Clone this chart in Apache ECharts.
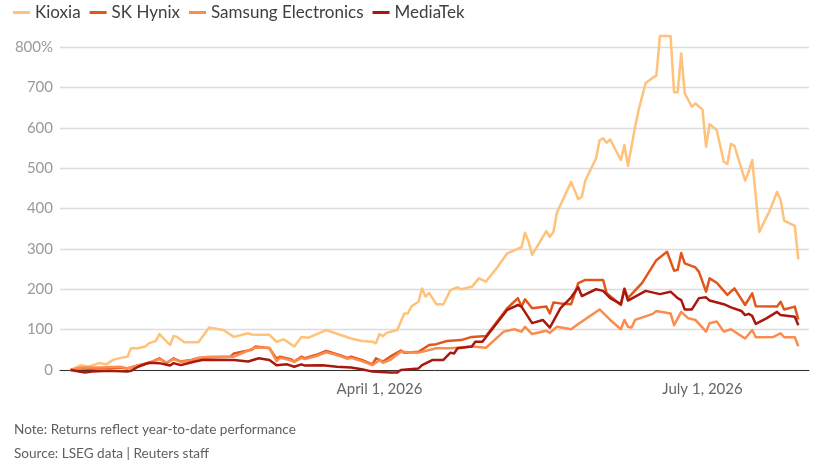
<!DOCTYPE html>
<html>
<head>
<meta charset="utf-8">
<script src="https://cdn.jsdelivr.net/npm/echarts@6/dist/echarts.min.js"></script>
<style>
  html, body { margin: 0; padding: 0; background: #fff; }
  #chart { width: 822px; height: 462px; }
</style>
</head>
<body>
<div id="chart"></div>
<script>
// ---- data (year-to-date returns, %) ----
const seriesNames = ['Kioxia', 'SK Hynix', 'Samsung Electronics', 'MediaTek'];

const kioxiaDates = ['01-04','01-07','01-09','01-12','01-14','01-16','01-18','01-20','01-21','01-23','01-25','01-26','01-28','01-29','02-01','02-02','02-03','02-05','02-09','02-12','02-14','02-16','02-19','02-23','02-24','02-26','03-01','03-03','03-05','03-08','03-10','03-12','03-16','03-17','03-19','03-24','03-27','03-30','03-31','04-01','04-02','04-03','04-06','04-08','04-09','04-10','04-12','04-13','04-14','04-15','04-17','04-19','04-21','04-23','04-24','04-27','04-29','05-01','05-04','05-07','05-11','05-12','05-13','05-14','05-18','05-19','05-20','05-21','05-25','05-27','05-28','05-29','06-01','06-02','06-03','06-04','06-05','06-08','06-09','06-10','06-12','06-13','06-15','06-17','06-18','06-19','06-22','06-23','06-24','06-25','06-26','06-28','06-29','07-01','07-02','07-03','07-05','07-07','07-08','07-09','07-10','07-13','07-14','07-15','07-17','07-20','07-22','07-23','07-24','07-27','07-28'];
const kioxiaValues = [0,12,8,17,14,25,30,33,54,54,58,66,72,89,62,84,82,69,69,105,102,99,82,91,88,87,87,70,76,58,82,80,95,99,93,78,72,70,66,89,84,92,99,140,140,158,169,202,182,191,163,163,198,205,200,206,227,219,252,289,304,340,318,285,344,330,342,390,466,423,429,470,524,569,574,563,571,520,557,505,602,644,711,724,729,827,827,688,688,784,685,652,660,645,553,609,594,516,510,560,555,469,491,520,342,396,441,421,370,357,274];

const hynixDates = ['01-04','01-07','01-10','01-18','01-20','01-23','01-26','01-29','01-31','02-02','02-04','02-07','02-09','02-12','02-18','02-19','02-24','02-25','03-01','03-03','03-04','03-07','03-08','03-10','03-11','03-14','03-17','03-20','03-23','03-24','03-27','03-30','03-31','04-02','04-04','04-07','04-08','04-12','04-15','04-17','04-20','04-24','04-27','05-01','05-07','05-10','05-11','05-12','05-14','05-18','05-19','05-20','05-22','05-25','05-27','05-29','06-03','06-04','06-08','06-09','06-10','06-14','06-18','06-21','06-23','06-24','06-25','06-26','06-29','06-30','07-02','07-03','07-05','07-08','07-10','07-13','07-15','07-16','07-22','07-23','07-24','07-27','07-28'];
const hynixValues = [0,4,3,6,4,11,17,29,17,29,21,25,30,31,33,41,50,58,54,28,33,27,21,33,29,37,47,39,30,33,25,14,29,21,33,48,43,45,62,64,72,74,82,84,153,178,157,175,153,157,140,167,165,163,215,223,223,190,161,202,178,216,272,293,246,248,290,264,254,243,194,227,216,186,202,161,190,158,157,169,150,157,125];

const samsungDates = ['01-04','01-07','01-12','01-18','01-20','01-23','01-26','01-29','01-31','02-02','02-04','02-07','02-09','02-12','02-19','02-24','02-25','03-01','03-03','03-04','03-07','03-08','03-10','03-11','03-14','03-17','03-20','03-23','03-24','03-27','03-30','04-01','04-02','04-04','04-07','04-12','04-17','04-21','04-27','05-01','05-06','05-09','05-11','05-12','05-14','05-18','05-19','05-21','05-25','05-27','06-02','06-05','06-08','06-09','06-10','06-11','06-12','06-17','06-18','06-22','06-23','06-25','06-27','06-29','07-02','07-03','07-05','07-07','07-09','07-13','07-15','07-16','07-21','07-23','07-24','07-27','07-28'];
const samsungValues = [0,6,6,8,4,12,18,27,18,27,20,24,30,33,33,52,56,55,22,30,24,20,30,27,34,44,37,28,30,22,12,25,18,25,45,43,54,54,58,55,95,101,95,107,89,97,92,107,101,114,150,124,101,124,107,105,124,139,146,140,111,144,128,124,95,116,120,95,101,78,99,81,82,91,81,81,59];

const mediatekDates = ['01-04','01-08','01-10','01-15','01-20','01-21','01-23','01-26','01-29','02-01','02-02','02-04','02-08','02-10','02-19','02-23','02-26','03-01','03-03','03-06','03-08','03-10','03-11','03-16','03-20','03-24','03-27','03-30','04-04','04-06','04-07','04-12','04-13','04-16','04-19','04-21','04-22','04-23','04-27','04-28','04-30','05-07','05-10','05-11','05-14','05-17','05-19','05-22','05-25','05-27','05-28','06-01','06-03','06-05','06-08','06-09','06-10','06-15','06-19','06-22','06-24','06-25','06-26','06-28','06-30','07-02','07-03','07-07','07-09','07-12','07-13','07-14','07-15','07-16','07-19','07-22','07-23','07-27','07-28'];
const mediatekValues = [0,-6,-4,-2,-4,-2,8,18,17,11,17,12,21,25,25,21,29,25,12,14,8,14,11,12,8,6,2,-4,-6,-6,0,4,12,25,25,43,41,54,58,70,70,149,161,157,116,124,105,153,180,205,183,200,196,178,163,200,172,196,188,194,178,173,150,150,178,180,172,163,155,146,136,139,134,114,128,144,136,132,111];

const yTicks = [0, 100, 200, 300, 400, 500, 600, 700, 800];
const xTickDates = ['2026-04-01', '2026-07-01'];
const xTickLabels = ['April 1, 2026', 'July 1, 2026'];
const axisStart = '2026-01-01';
const axisEnd = '2026-07-31';
const year = '2026-';

const colors = ['#FEC27B', '#E2561D', '#FB8C4E', '#A8180E'];

function ts(s) {
  const p = s.split('-').map(Number);
  return Date.UTC(p[0], p[1] - 1, p[2]);
}
function pair(dates, values) {
  return dates.map((d, i) => [ts(year + d), values[i]]);
}

const chart = echarts.init(document.getElementById('chart'), null, { renderer: 'canvas' });
const font = 'Lato, "Open Sans", sans-serif';

const allData = [
  pair(kioxiaDates, kioxiaValues),
  pair(hynixDates, hynixValues),
  pair(samsungDates, samsungValues),
  pair(mediatekDates, mediatekValues)
];
const xTickTs = xTickDates.map(ts);

chart.setOption({
  animation: false,
  backgroundColor: '#ffffff',
  color: colors,
  textStyle: { fontFamily: font },
  legend: {
    left: 8,
    top: -1,
    itemWidth: 17,
    itemHeight: 3,
    itemGap: 9,
    icon: 'rect',
    textStyle: { fontFamily: font, fontSize: 17, color: '#404040' },
    data: seriesNames
  },
  graphic: [
    { type: 'text', left: 14, top: 423, style: { text: 'Note: Returns reflect year-to-date performance', fontFamily: font, fontSize: 13.6, fill: '#5f5f5f' } },
    { type: 'text', left: 14, top: 447, style: { text: 'Source: LSEG data | Reuters staff', fontFamily: font, fontSize: 13.6, fill: '#5f5f5f' } }
  ],
  grid: { left: 60, right: 13, top: 47, bottom: 92, containLabel: false },
  xAxis: {
    type: 'value',
    min: ts(axisStart),
    max: ts(axisEnd),
    axisLine: { show: true, onZero: true, lineStyle: { color: '#333333', width: 1 } },
    axisTick: { show: false },
    splitLine: { show: false },
    axisLabel: {
      customValues: xTickTs,
      formatter: function (v) {
        const i = xTickTs.indexOf(v);
        return i >= 0 ? xTickLabels[i] : '';
      },
      fontFamily: font,
      fontSize: 15,
      color: '#666666',
      margin: 12
    }
  },
  yAxis: {
    type: 'value',
    min: 0,
    max: 800,
    interval: 100,
    axisLine: { show: false },
    axisTick: { show: false },
    splitLine: { show: true, lineStyle: { color: '#dcdcdc', width: 1.3 } },
    axisLabel: {
      formatter: function (v) { return v === 800 ? '800%' : String(v); },
      fontFamily: font,
      fontSize: 15,
      color: '#9a9a9a',
      margin: 7
    }
  },
  series: seriesNames.map((name, i) => ({
    name: name,
    type: 'line',
    data: allData[i],
    showSymbol: false,
    symbol: 'none',
    clip: false,
    lineStyle: { width: 2.5, color: colors[i], join: 'round' },
    itemStyle: { color: colors[i] },
    emphasis: { disabled: true }
  }))
});
</script>
</body>
</html>
